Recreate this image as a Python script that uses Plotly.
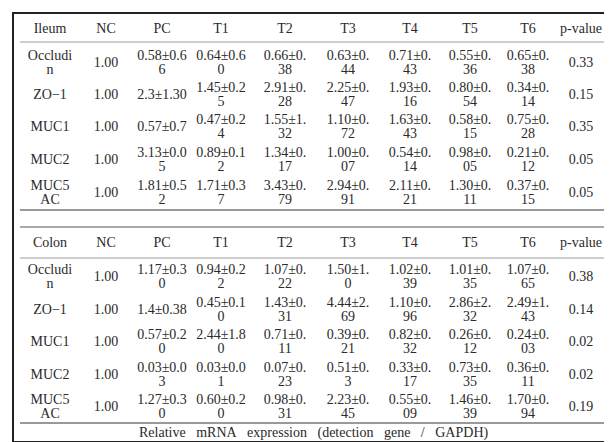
import plotly.graph_objects as go

# table content
columns = ["NC", "PC", "T1", "T2", "T3", "T4", "T5", "T6", "p-value"]
gene_labels = ["Occludi<br>n", "ZO\u22121", "MUC1", "MUC2", "MUC5<br>AC"]
nc_values = ["1.00", "1.00", "1.00", "1.00", "1.00"]

# PC, T1 ... T6 (mean±sd) for each gene
ileum_cells = [
    ["0.58±0.66", "0.64±0.60", "0.66±0.38", "0.63±0.44", "0.71±0.43", "0.55±0.36", "0.65±0.38"],
    ["2.3±1.30", "1.45±0.25", "2.91±0.28", "2.25±0.47", "1.93±0.16", "0.80±0.54", "0.34±0.14"],
    ["0.57±0.7", "0.47±0.24", "1.55±1.32", "1.10±0.72", "1.63±0.43", "0.58±0.15", "0.75±0.28"],
    ["3.13±0.05", "0.89±0.12", "1.34±0.17", "1.00±0.07", "0.54±0.14", "0.98±0.05", "0.21±0.12"],
    ["1.81±0.52", "1.71±0.37", "3.43±0.79", "2.94±0.91", "2.11±0.21", "1.30±0.11", "0.37±0.15"],
]
ileum_p = ["0.33", "0.15", "0.35", "0.05", "0.05"]

colon_cells = [
    ["1.17±0.30", "0.94±0.22", "1.07±0.22", "1.50±1.0", "1.02±0.39", "1.01±0.35", "1.07±0.65"],
    ["1.4±0.38", "0.45±0.10", "1.43±0.31", "4.44±2.69", "1.10±0.96", "2.86±2.32", "2.49±1.43"],
    ["0.57±0.20", "2.44±1.80", "0.71±0.11", "0.39±0.21", "0.82±0.32", "0.26±0.12", "0.24±0.03"],
    ["0.03±0.03", "0.03±0.01", "0.07±0.23", "0.51±0.3", "0.33±0.17", "0.73±0.35", "0.36±0.11"],
    ["1.27±0.30", "0.60±0.20", "0.98±0.31", "2.23±0.45", "0.55±0.09", "1.46±0.39", "1.70±0.94"],
]
colon_p = ["0.38", "0.14", "0.02", "0.02", "0.19"]

footer_words = ["Relative", "mRNA", "expression", "(detection", "gene", "/", "GAPDH)"]

# layout (pixel units)
col_x = [42, 98, 154, 213, 277, 340, 402, 462, 520, 573]
wrap_at = [8, 8, 7, 7, 7, 7, 7]
ileum_y = [21, 55, 87.5, 119.5, 152, 185]
colon_y = [235.5, 269, 302, 334.5, 367, 399]
line_h = 14


def wrap(s, n):
    return s if len(s) <= n else s[:n] + "<br>" + s[n:]


xs, ys, texts = [], [], []


def put(x, y, t):
    parts = t.split("<br>")
    for k, p in enumerate(parts):
        xs.append(x)
        ys.append(y + (k - (len(parts) - 1) / 2) * line_h)
        texts.append(p)


for name, cells, pvals, rows_y in [("Ileum", ileum_cells, ileum_p, ileum_y),
                                   ("Colon", colon_cells, colon_p, colon_y)]:
    for x, t in zip(col_x, [name] + columns):
        put(x, rows_y[0], t)
    for i, row in enumerate(cells):
        line = [gene_labels[i], nc_values[i]] + [wrap(c, n) for c, n in zip(row, wrap_at)] + [pvals[i]]
        for x, t in zip(col_x, line):
            put(x, rows_y[i + 1], t)

fig = go.Figure()
fig.add_trace(go.Scatter(
    x=xs, y=ys, text=texts, mode="text", textposition="middle center",
    textfont={"family": "Liberation Serif", "size": 14, "color": "#2a2a2a"},
    hoverinfo="skip", showlegend=False,
))

# rules
for y, w, c in [(34, 1, "#9a9a9a"), (202, 2, "#999"), (219, 1, "#555"),
                (250, 1, "#9a9a9a"), (415, 2, "#999")]:
    fig.add_shape(type="line", x0=12, x1=598, y0=y, y1=y, xref="x", yref="y",
                  line={"color": c, "width": w})
fig.add_shape(type="rect", x0=5, x1=601, y0=5, y1=434, xref="x", yref="y",
              line={"color": "#222", "width": 2})

fig.add_annotation(x=305, y=425, xref="x", yref="y",
                   text="\u00a0\u00a0 ".join(footer_words), showarrow=False,
                   font={"family": "Liberation Serif", "size": 14, "color": "#2a2a2a"})

fig.update_layout(
    width=612, height=442,
    margin={"l": 0, "r": 0, "t": 0, "b": 0},
    paper_bgcolor="white", plot_bgcolor="white",
)
fig.update_xaxes(range=[0, 612], visible=False, fixedrange=True)
fig.update_yaxes(range=[442, 0], visible=False, fixedrange=True)

fig.write_html("out.html")
